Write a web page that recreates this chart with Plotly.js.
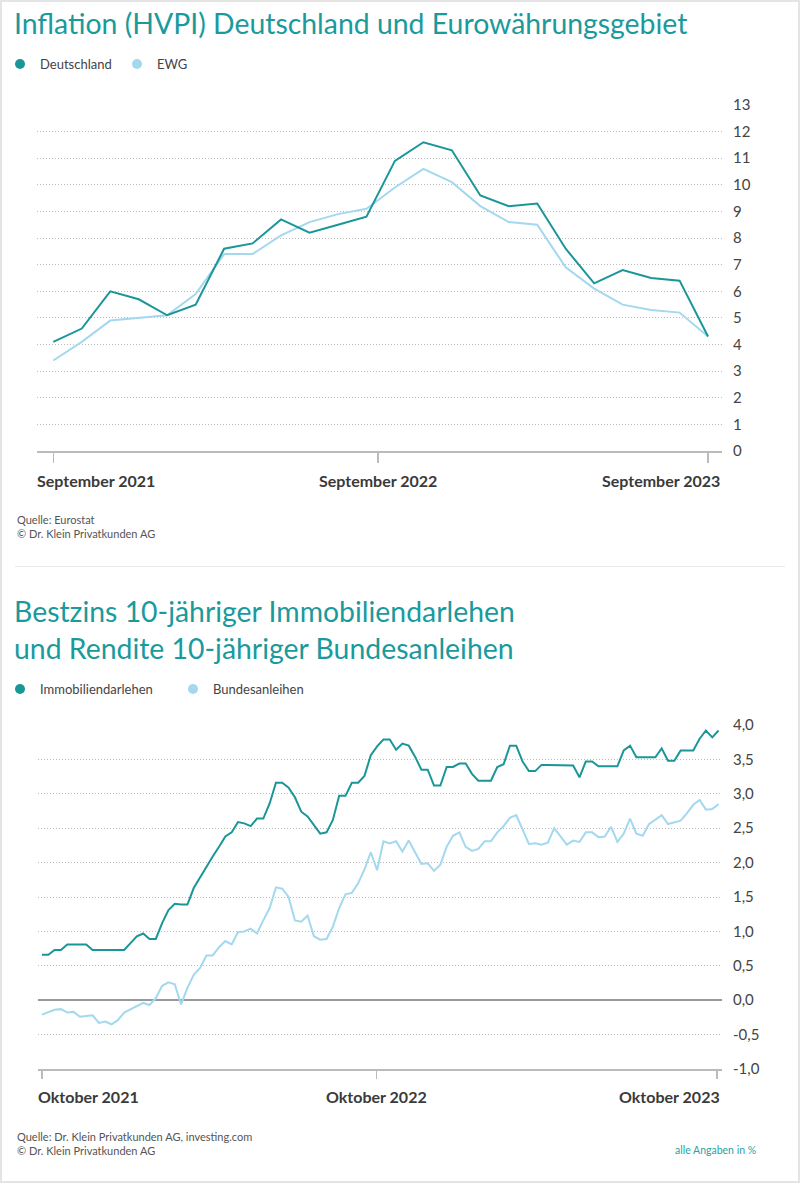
<!DOCTYPE html>
<html><head><meta charset="utf-8">
<script src="https://cdn.plot.ly/plotly-3.0.1.min.js"></script>
<style>
html,body{margin:0;padding:0;background:#fff;}
#wrap{position:relative;width:800px;height:1183px;overflow:hidden;background:#fff;}
#c1{position:absolute;left:0;top:0;width:800px;height:566px;}
#c2{position:absolute;left:0;top:566px;width:800px;height:617px;}
#frame{position:absolute;left:0;top:0;width:800px;height:1183px;box-sizing:border-box;border:2px solid #e4e4e4;pointer-events:none;}
#sep{position:absolute;left:15px;width:770px;top:566px;height:1px;background:#e8e8e8;}
</style></head><body>
<div id="wrap"><div id="c1"></div><div id="c2"></div><div id="sep"></div><div id="frame"></div></div>
<script>
// ---------- Chart 1 data ----------
const months = ['09/2021','10/2021','11/2021','12/2021','01/2022','02/2022','03/2022','04/2022','05/2022','06/2022','07/2022','08/2022','09/2022','10/2022','11/2022','12/2022','01/2023','02/2023','03/2023','05/2023','06/2023','07/2023','08/2023','09/2023'];
const deutschland = [4.1,4.6,6.0,5.7,5.1,5.5,7.6,7.8,8.7,8.2,8.5,8.8,10.9,11.6,11.3,9.6,9.2,9.3,7.6,6.3,6.8,6.5,6.4,4.3];
const ewg = [3.4,4.1,4.9,5.0,5.1,5.9,7.4,7.4,8.1,8.6,8.9,9.1,9.9,10.6,10.1,9.2,8.6,8.5,6.9,6.1,5.5,5.3,5.2,4.3];
const xTickLabels1 = ['September 2021','September 2022','September 2023'];
const xTickPos1 = [0, 11.4, 23];

// ---------- Chart 2 data (weekly) ----------
const immobiliendarlehen = [0.66,0.66,0.73,0.73,0.81,0.81,0.81,0.81,0.73,0.73,0.73,0.73,0.73,0.73,0.83,0.93,0.97,0.89,0.89,1.12,
1.31,1.40,1.39,1.39,1.63,1.79,1.94,2.09,2.23,2.38,2.44,2.59,2.57,2.53,2.64,2.64,2.86,3.16,3.16,3.09,
2.95,2.74,2.67,2.55,2.42,2.44,2.62,2.97,2.97,3.16,3.16,3.26,3.56,3.69,3.79,3.79,3.64,3.73,3.70,3.54,
3.35,3.35,3.12,3.12,3.39,3.39,3.44,3.44,3.29,3.19,3.19,3.19,3.39,3.43,3.70,3.70,3.47,3.33,3.33,3.42,
3.42,3.42,3.42,3.41,3.41,3.24,3.47,3.47,3.40,3.40,3.40,3.40,3.63,3.70,3.53,3.53,3.53,3.53,3.66,3.48,
3.48,3.63,3.63,3.63,3.80,3.92,3.82,3.92];
const bundesanleihen = [-0.21,-0.18,-0.14,-0.13,-0.18,-0.17,-0.24,-0.23,-0.22,-0.33,-0.31,-0.35,-0.29,-0.18,-0.13,-0.08,-0.04,-0.07,0.03,0.21,
0.26,0.23,-0.06,0.18,0.37,0.47,0.65,0.65,0.77,0.86,0.81,0.99,1.00,1.04,0.97,1.16,1.34,1.64,1.62,1.50,
1.16,1.14,1.23,0.93,0.88,0.89,1.07,1.34,1.54,1.56,1.70,1.90,2.15,1.89,2.31,2.28,2.31,2.16,2.32,2.15,
1.98,1.99,1.88,1.97,2.23,2.39,2.44,2.23,2.17,2.20,2.31,2.31,2.44,2.53,2.65,2.69,2.48,2.27,2.28,2.26,
2.29,2.50,2.38,2.26,2.32,2.30,2.44,2.44,2.37,2.38,2.52,2.30,2.42,2.64,2.42,2.39,2.56,2.63,2.69,2.56,
2.58,2.61,2.72,2.84,2.91,2.77,2.78,2.85];
const xTickLabels2 = ['Oktober 2021','Oktober 2022','Oktober 2023'];
const xTickPos2 = [0, 52.93, 106.74];
const yTickVals2 = [-1,-0.5,0,0.5,1,1.5,2,2.5,3,3.5,4];
const yTickText2 = ['-1,0','-0,5','0,0','0,5','1,0','1,5','2,0','2,5','3,0','3,5','4,0'];

// ---------- style ----------
const TEAL = '#1a9698';
const LIGHT = '#a3d8ef';
const TITLE = '#1a9a9c';
const FONT = 'Lato, "Source Sans Pro", sans-serif';
const TXT = '#444';

function mk(m, w, h){
  return {
    px: x => (x - m.l) / (w - m.l - m.r),
    py: y => 1 - (y - m.t) / (h - m.t - m.b)
  };
}

function xLabelAnn(labels, pos, anchors, shifts, yshift){
  return labels.map((t,i)=>({
    text: t, x: pos[i], xref:'x', y: 0, yref:'paper', yanchor:'top',
    xanchor: anchors[i], xshift: shifts[i], yshift: yshift, showarrow:false,
    font:{family:FONT, size:16, color:'#3a3a3a', weight:700}
  }));
}

// ---------- Chart 1 ----------
(function(){
  const W=800, H=566;
  const m = {l:37, r:800-722, t:105, b:H-451};
  const c = mk(m,W,H);
  const xi = months.map((_,i)=>i);
  const data = [
    {x: xi, y: ewg, text: months, type:'scatter', mode:'lines', line:{color:LIGHT, width:2}, showlegend:false, hoverinfo:'skip'},
    {x: xi, y: deutschland, text: months, type:'scatter', mode:'lines', line:{color:TEAL, width:2}, showlegend:false, hoverinfo:'skip'},
    {x:[null], y:[null], type:'scatter', mode:'markers', name:'Deutschland', marker:{color:TEAL, size:10}},
    {x:[null], y:[null], type:'scatter', mode:'markers', name:'EWG', marker:{color:LIGHT, size:10}}
  ];
  const ann = xLabelAnn(xTickLabels1, xTickPos1, ['left','center','right'], [-18,0,14], -18);
  ann.push({text:'Quelle: Eurostat<br>© Dr. Klein Privatkunden AG', xref:'paper', yref:'paper',
    x:c.px(15), y:c.py(511), xanchor:'left', yanchor:'top', align:'left', showarrow:false,
    font:{family:FONT, size:11, color:'#555'}});
  const layout = {
    width:W, height:H, margin:m,
    paper_bgcolor:'rgba(0,0,0,0)', plot_bgcolor:'rgba(0,0,0,0)',
    font:{family:FONT, color:TXT},
    title:{text:'Inflation (HVPI) Deutschland und Eurowährungsgebiet', xref:'container', yref:'container',
      x:14/W, xanchor:'left', y:1-24/H, yanchor:'middle', font:{family:FONT, size:28.4, color:TITLE}},
    showlegend:true,
    legend:{orientation:'h', xref:'container', yref:'container', x:-1/W, xanchor:'left', y:1-64/H, yanchor:'middle',
      font:{family:FONT, size:13, color:TXT}, entrywidth:72, entrywidthmode:'pixels', bgcolor:'rgba(0,0,0,0)'},
    xaxis:{range:[-0.573, 23.49], showgrid:false, zeroline:false, showline:true, linecolor:'#bbb', linewidth:1.5,
      ticks:'outside', ticklen:10, tickcolor:'#bbb', tickwidth:1.5, tickmode:'array', tickvals:xTickPos1, showticklabels:false, fixedrange:true},
    yaxis:{range:[0,13], side:'right', tickmode:'linear', tick0:0, dtick:1, showgrid:true, gridcolor:'#bdbdbd', griddash:'1px,2px', gridwidth:1,
      zeroline:false, showline:false, ticks:'', ticklabelstandoff:10, tickfont:{family:FONT, size:15, color:TXT}, fixedrange:true},
    annotations: ann
  };
  Plotly.newPlot('c1', data, layout, {staticPlot:true, displayModeBar:false});
})();

// ---------- Chart 2 ----------
(function(){
  const W=800, H=617;
  const m = {l:38, r:800-722, t:725-566, b:H-(1069.5-566)};
  const c = mk(m,W,H);
  const xi = immobiliendarlehen.map((_,i)=>i);
  const data = [
    {x: xi, y: bundesanleihen, type:'scatter', mode:'lines', line:{color:LIGHT, width:2}, showlegend:false, hoverinfo:'skip'},
    {x: xi, y: immobiliendarlehen, type:'scatter', mode:'lines', line:{color:TEAL, width:2}, showlegend:false, hoverinfo:'skip'},
    {x:[null], y:[null], type:'scatter', mode:'markers', name:'Immobiliendarlehen', marker:{color:TEAL, size:10}},
    {x:[null], y:[null], type:'scatter', mode:'markers', name:'Bundesanleihen', marker:{color:LIGHT, size:10}}
  ];
  const ann = xLabelAnn(xTickLabels2, xTickPos2, ['left','center','right'], [-6,0,5], -16);
  ann.push({text:'Quelle: Dr. Klein Privatkunden AG, investing.com<br>© Dr. Klein Privatkunden AG', xref:'paper', yref:'paper',
    x:c.px(15), y:c.py(1129-566), xanchor:'left', yanchor:'top', align:'left', showarrow:false,
    font:{family:FONT, size:11, color:'#555'}});
  ann.push({text:'alle Angaben in %', xref:'paper', yref:'paper', x:c.px(758), y:c.py(1151-566), xanchor:'right', yanchor:'middle',
    showarrow:false, font:{family:FONT, size:10.5, color:'#2a9fa6'}});
  const layout = {
    width:W, height:H, margin:m,
    paper_bgcolor:'rgba(0,0,0,0)', plot_bgcolor:'rgba(0,0,0,0)',
    font:{family:FONT, color:TXT},
    title:{text:'Bestzins 10-jähriger Immobiliendarlehen<br>und Rendite 10-jähriger Bundesanleihen', xref:'container', yref:'container',
      x:14/W, xanchor:'left', y:1-56/H, yanchor:'middle', font:{family:FONT, size:28.4, color:TITLE}},
    showlegend:true,
    legend:{orientation:'h', xref:'container', yref:'container', x:-1/W, xanchor:'left', y:1-123/H, yanchor:'middle',
      font:{family:FONT, size:13, color:TXT}, entrywidth:128, entrywidthmode:'pixels', bgcolor:'rgba(0,0,0,0)'},
    xaxis:{range:[-0.63, 107.54], showgrid:false, zeroline:false, showline:true, linecolor:'#bbb', linewidth:1.5,
      ticks:'outside', ticklen:8, tickcolor:'#bbb', tickwidth:1.5, tickmode:'array', tickvals:xTickPos2, showticklabels:false, fixedrange:true},
    yaxis:{range:[-1,4], side:'right', tickmode:'array', tickvals:yTickVals2, ticktext:yTickText2, showgrid:true, gridcolor:'#bdbdbd', griddash:'1px,2px', gridwidth:1,
      zeroline:true, zerolinecolor:'#999', zerolinewidth:1.5, showline:false, ticks:'', ticklabelstandoff:10,
      tickfont:{family:FONT, size:15, color:TXT}, fixedrange:true},
    annotations: ann
  };
  Plotly.newPlot('c2', data, layout, {staticPlot:true, displayModeBar:false});
})();
</script>
</body></html>
